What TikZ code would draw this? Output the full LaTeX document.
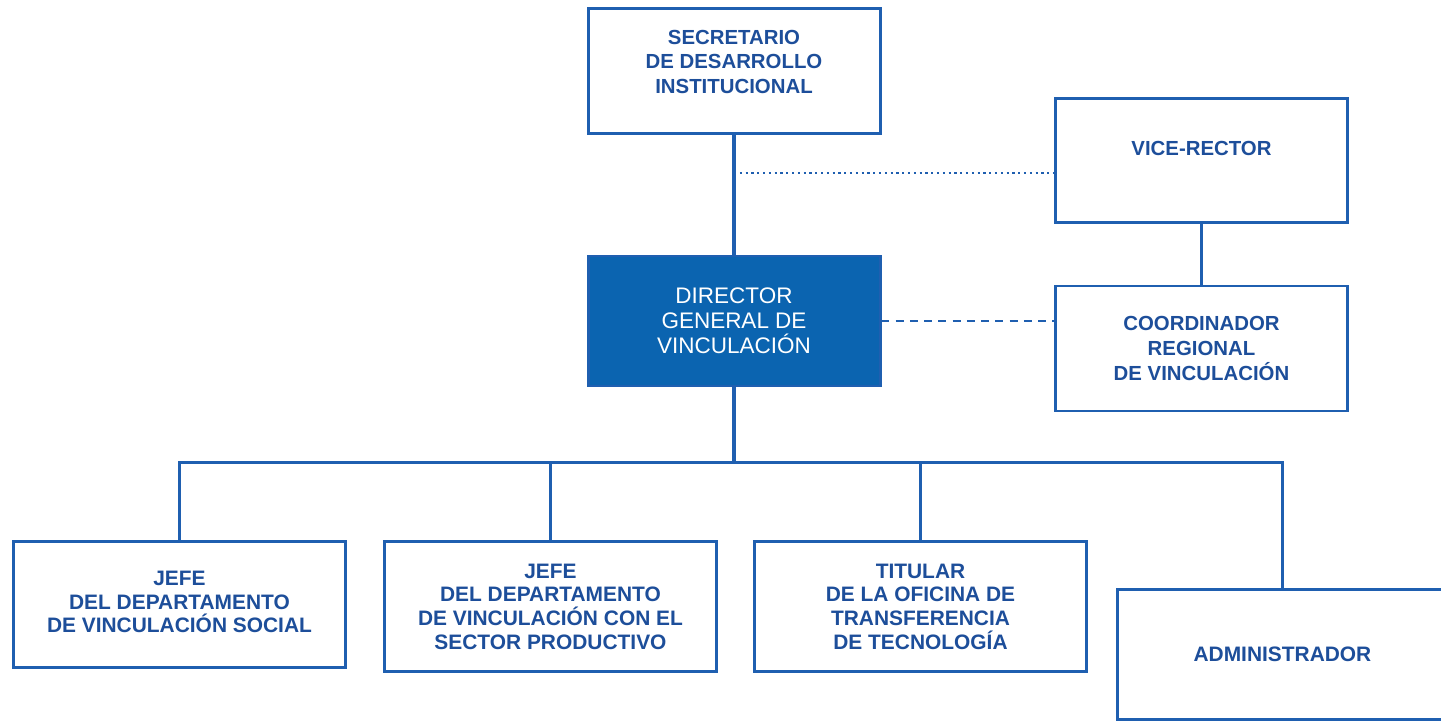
\documentclass[tikz,border=0pt]{standalone}
\usepackage{fontspec}
\setmainfont{Liberation Sans}
\usetikzlibrary{positioning, calc}
\definecolor{orgline}{HTML}{1F5FB0}
\definecolor{orgtext}{HTML}{1D4E9A}
\definecolor{orgfill}{HTML}{0B64B0}
\tikzstyle{block} = [rectangle, draw=orgline, line width=1.7pt, fill=white, text=orgtext, align=center, font=\bfseries\fontsize{11.6}{14}\selectfont, inner sep=0pt]
\tikzstyle{head} = [block, fill=orgfill, text=white, font=\fontsize{12.8}{14.2}\selectfont]
\tikzstyle{unit} = [block, minimum width=6.64cm, minimum height=2.56cm, font=\bfseries\fontsize{11.9}{13.4}\selectfont]
\tikzstyle{line} = [draw=orgline, line width=1.9pt]

\begin{document}
\begin{tikzpicture}
        \useasboundingbox (0,0) rectangle (28.82,-14.42);

        \node[block, minimum width=5.84cm, minimum height=2.5cm, text depth=0.35cm] (sec) at (14.68,-1.41) {SECRETARIO\\DE DESARROLLO\\INSTITUCIONAL};

        \node[head, minimum width=5.84cm, minimum height=2.6cm, below=2.4cm of sec] (dir) {DIRECTOR\\GENERAL DE\\VINCULACIÓN};

        \node[block, minimum width=5.84cm, minimum height=2.48cm, text depth=0.48cm, below right=1.8cm and 3.45cm of sec.north east] (vice) {VICE-RECTOR};

        \node[block, minimum width=5.84cm, minimum height=2.5cm, below=1.22cm of vice] (coord) {COORDINADOR\\REGIONAL\\DE VINCULACIÓN};

        \path[line] (sec) -- (dir);
        \path[line] (vice) -- (coord);

        \coordinate (m) at ($(sec.south)!0.32!(dir.north)$);
        \path[draw=orgline, line width=1.3pt, dotted] (m) -- (m -| vice.west);
        \path[draw=orgline, line width=1.5pt, dash pattern=on 4.5pt off 3.6pt] (dir.east) -- (dir.east -| coord.west);

        \node[unit, minimum height=2.52cm, text depth=0.1cm, anchor=north west] (jefe1) at (0.24,-10.8) {JEFE\\DEL DEPARTAMENTO\\DE VINCULACIÓN SOCIAL};

        \node[unit, minimum height=2.6cm, right=0.72cm of jefe1.north east, anchor=north west, text depth=-0.05cm] (jefe2) {JEFE\\DEL DEPARTAMENTO\\DE VINCULACIÓN CON EL\\SECTOR PRODUCTIVO};

        \node[unit, minimum height=2.6cm, right=0.7cm of jefe2.north east, anchor=north west, text depth=-0.05cm] (tit) {TITULAR\\DE LA OFICINA DE\\TRANSFERENCIA\\DE TECNOLOGÍA};

        \node[unit, minimum width=6.6cm, minimum height=2.6cm, below right=0.96cm and 0.56cm of tit.north east, anchor=north west, text depth=-0.28cm] (adm) {ADMINISTRADOR};

        \coordinate (bus) at ($(dir.south)+(0,-1.5)$);
        \path[line] (dir) -- (bus);
        \path[line] (jefe1.north) |- (adm.north |- bus) -- (adm.north);
        \path[line] (jefe2.north) -- (jefe2.north |- bus);
        \path[line] (tit.north) -- (tit.north |- bus);
    \end{tikzpicture}
\end{document}
